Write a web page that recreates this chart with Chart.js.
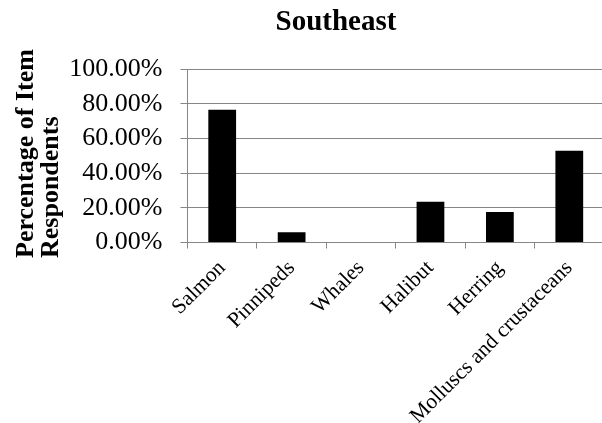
<!DOCTYPE html>
<html>
<head>
<meta charset="utf-8">
<script src="https://cdn.jsdelivr.net/npm/chart.js@4"></script>
<style>
  html, body { margin: 0; padding: 0; background: #fff; overflow: hidden; }
  #wrap { width: 604px; height: 423px; }
</style>
</head>
<body>
<div id="wrap"><canvas id="chart"></canvas></div>
<script>
// chart data
const categories = ["Salmon", "Pinnipeds", "Whales", "Halibut", "Herring", "Molluscs and crustaceans"];
const percentages = [76.47, 5.88, 0, 23.53, 17.65, 52.94];
const yTicks = [0, 20, 40, 60, 80, 100];
const chartTitle = "Southeast";
const yTitleLines = ["Percentage of Item", "Respondents"];

const serif = "'Liberation Serif', 'Times New Roman', serif";
const gridGray = "#868686";

// y axis title, left aligned at the bottom like the original
const yTitlePlugin = {
  id: "yTitle",
  afterDraw(chart) {
    const ctx = chart.ctx;
    ctx.save();
    ctx.font = "bold 26px " + serif;
    ctx.fillStyle = "#000";
    ctx.textAlign = "left";
    ctx.textBaseline = "alphabetic";
    const xs = [33, 58];
    yTitleLines.forEach((line, i) => {
      ctx.save();
      ctx.translate(xs[i], 258);
      ctx.rotate(-Math.PI / 2);
      ctx.fillText(line, 0, 0);
      ctx.restore();
    });
    ctx.restore();
  }
};

new Chart(document.getElementById("chart"), {
  type: "bar",
  data: {
    labels: categories,
    datasets: [{
      data: percentages,
      backgroundColor: "#000",
      borderWidth: 0,
      barPercentage: 0.4,
      categoryPercentage: 1
    }]
  },
  options: {
    responsive: true,
    maintainAspectRatio: false,
    animation: false,
    events: [],
    layout: { padding: { left: 68, top: 0, right: 0, bottom: 0 } },
    plugins: {
      legend: { display: false },
      tooltip: { enabled: false },
      title: {
        display: true,
        text: chartTitle,
        color: "#000",
        font: { family: serif, size: 29, weight: "bold", lineHeight: 1.2 },
        padding: { top: 5, bottom: 29.2 }
      }
    },
    scales: {
      x: {
        offset: true,
        grid: {
          offset: true,
          drawOnChartArea: false,
          drawTicks: true,
          tickLength: 6,
          color: gridGray
        },
        border: { display: true, color: gridGray, width: 1 },
        ticks: {
          autoSkip: false,
          maxRotation: 45,
          minRotation: 45,
          color: "#000",
          padding: 7,
          font: { family: serif, size: 21.5 }
        },
        afterFit(scale) { scale.height = 180.5; }
      },
      y: {
        min: 0,
        max: 100,
        afterBuildTicks(scale) { scale.ticks = yTicks.map(v => ({ value: v })); },
        grid: {
          color: gridGray,
          lineWidth: 1,
          drawTicks: true,
          tickLength: 7
        },
        border: { display: true, color: gridGray, width: 1 },
        ticks: {
          color: "#000",
          padding: 18,
          font: { family: serif, size: 26 },
          callback: (v) => Number(v).toFixed(2) + "%"
        },
        afterFit(scale) { scale.width = 119.5; }
      }
    }
  },
  plugins: [yTitlePlugin]
});
</script>
</body>
</html>
